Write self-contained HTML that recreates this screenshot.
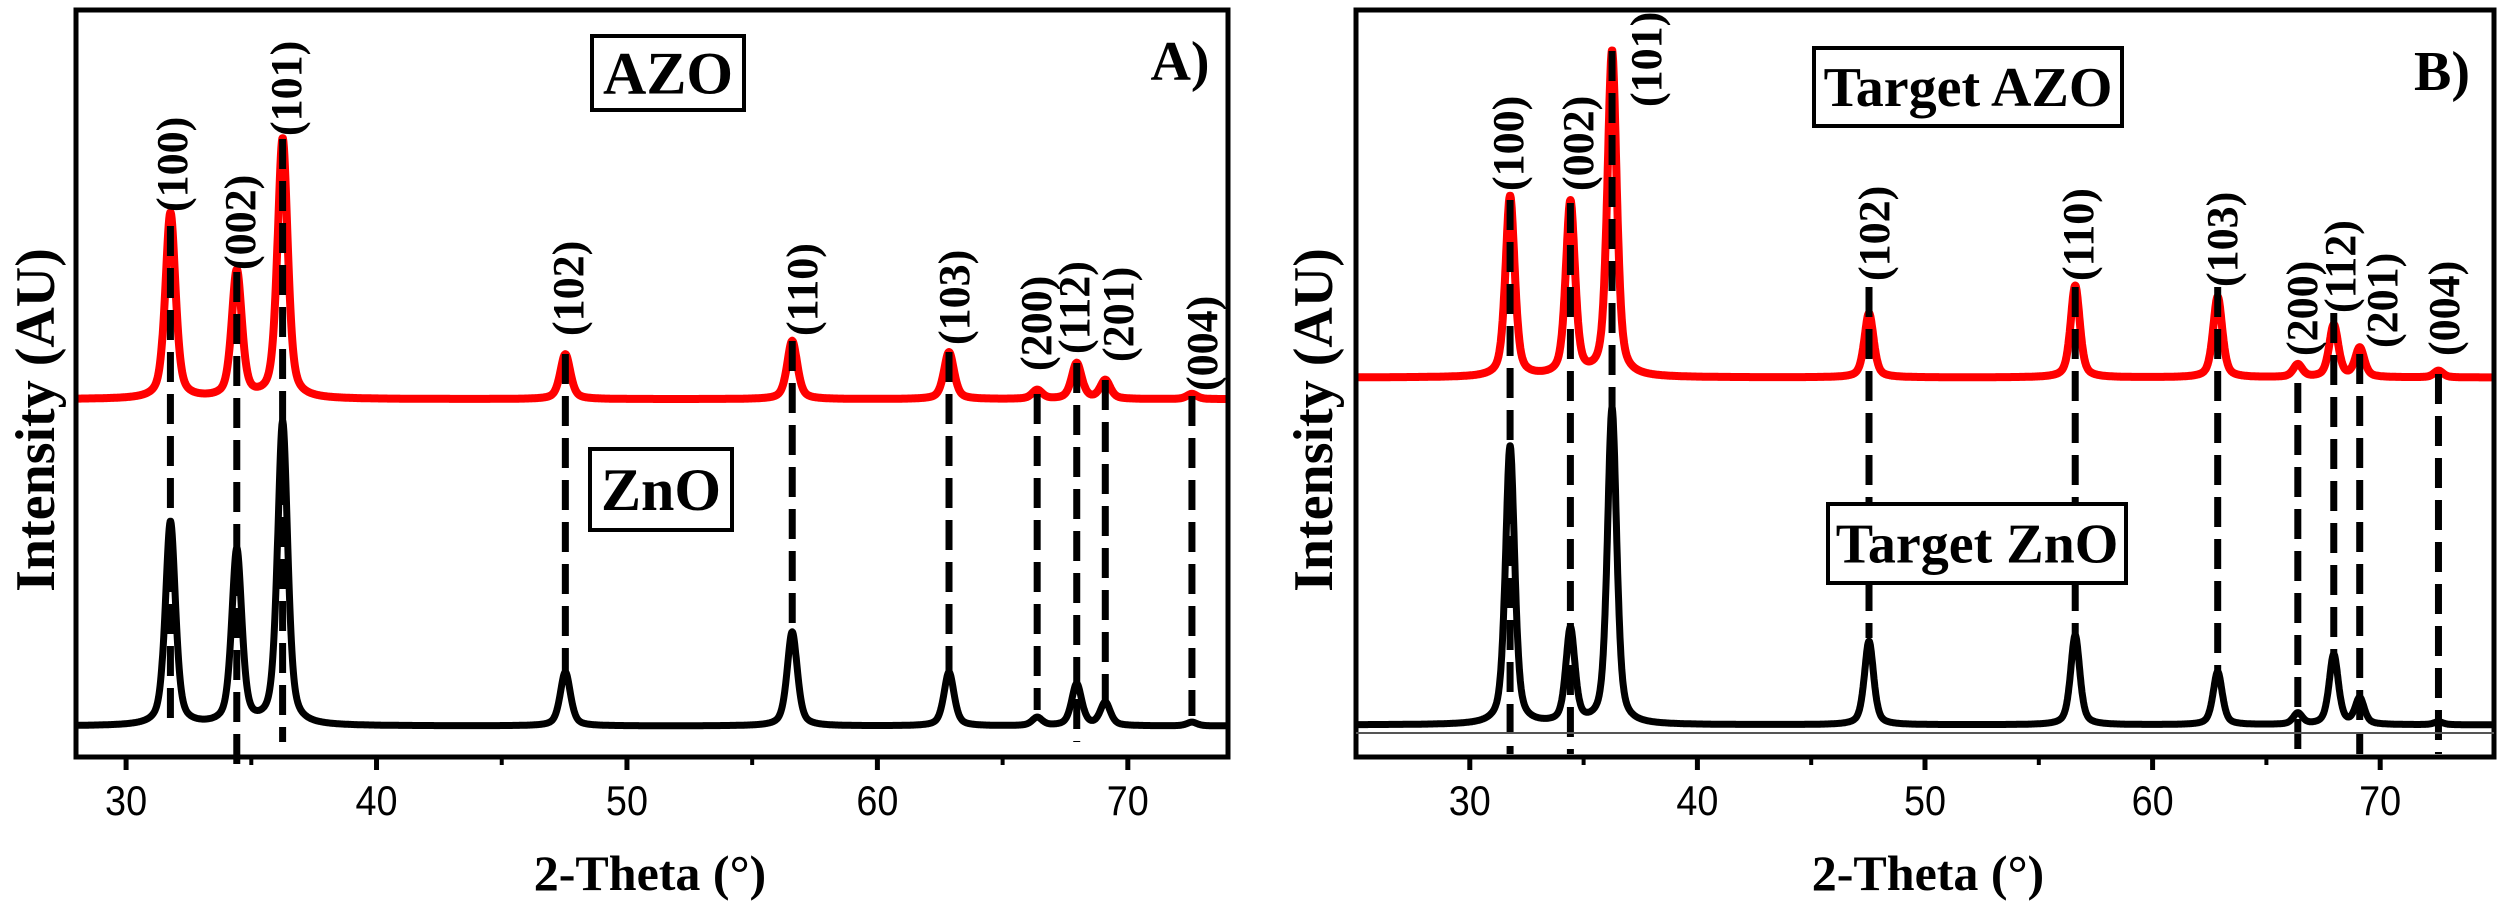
<!DOCTYPE html>
<html><head><meta charset="utf-8"><style>
html,body{margin:0;padding:0;background:#fff;}
svg{display:block;}
text{font-family:"Liberation Serif",serif;font-weight:bold;fill:#000;}
.tick{font-family:"Liberation Sans",sans-serif;font-weight:normal;}
</style></head><body>
<svg id="chart" width="2508" height="909" viewBox="0 0 2508 909" xmlns="http://www.w3.org/2000/svg"></svg>
<script>
const peakLabels = ["(100)","(002)","(101)","(102)","(110)","(103)","(200)","(112)","(201)","(004)"];
const peakPositions = [31.77,34.42,36.25,47.54,56.60,62.86,66.38,67.96,69.10,72.56];
const xTickValues = [30,40,50,60,70];
const minorTickValues = [35,45,55,65];
// Panel A heights (a.u.)
const azoHeightsA = [24.9,17.0,34.8,6.0,7.8,6.3,1.2,4.8,2.5,0.7];
const znoHeightsA = [27.3,23.4,40.6,7.2,12.6,7.2,1.1,5.6,3.1,0.5];
// Panel B heights (a.u.)
const azoHeightsB = [24.2,23.3,43.6,8.6,12.3,10.8,1.7,7.0,3.9,0.9];
const znoHeightsB = [37.3,12.6,42.3,11.2,12.0,7.1,1.5,9.4,3.5,0.4];
const offsetsA = {azo:47.9, zno:4.15};
const offsetsB = {azo:50.8, zno:4.3};

const NS="http://www.w3.org/2000/svg";
const svg=document.getElementById('chart');
function el(tag,attrs,parent){const e=document.createElementNS(NS,tag);for(const k in attrs)e.setAttribute(k,attrs[k]);(parent||svg).appendChild(e);return e;}

function panel(cfg){
  const g=el('g',{});
  
  
  const xs=v=>cfg.left+(v-cfg.xmin)/(cfg.xmax-cfg.xmin)*(cfg.right-cfg.left);
  const ys=v=>757-v*7.47;
  function curve(h,off){
    let d='';
    for(let t=cfg.xmin;t<=cfg.xmax+1e-6;t+=0.02){
      let s=0;
      for(let i=0;i<peakPositions.length;i++){
        const dx=(t-peakPositions[i])/0.24;
        s+=h[i]*(0.5/(1+dx*dx)+0.5*Math.exp(-0.693*dx*dx));
      }
      d+=(d?'L':'M')+xs(t).toFixed(1)+','+ys(off+s).toFixed(1);
    }
    return d;
  }
  const blk=el('path',{d:curve(cfg.zno,cfg.offZ),fill:'none',stroke:'#000','stroke-width':7,'stroke-linejoin':'round'},g);
  
  
  const red=el('path',{d:curve(cfg.azo,cfg.offA),fill:'none',stroke:'#ff0000','stroke-width':8,'stroke-linejoin':'round'},g);
  
  
  for(let i=0;i<peakPositions.length;i++){
    const x=xs(peakPositions[i]);
    const dl=el('line',{x1:x,x2:x,y1:cfg.dashTop[i],y2:cfg.dashBot[i],stroke:'#000','stroke-width':7,'stroke-dasharray':'30 12'},g);
    
    
    const lx=cfg.labelX[i]+15, ly=cfg.labelBot[i];
    const t=el('text',{x:lx,y:ly,'font-size':44,transform:`rotate(-90 ${lx} ${ly})`},g);
    t.textContent=peakLabels[i];
    
    
  }
  const fr=el('rect',{x:cfg.left,y:10,width:cfg.right-cfg.left,height:747,fill:'none',stroke:'#000','stroke-width':5},g);
  
  
  xTickValues.forEach(v=>{
    const tk=el('line',{x1:xs(v),x2:xs(v),y1:757,y2:770,stroke:'#000','stroke-width':5},g);
    
    
    const tl=el('text',{x:xs(v),y:815,'font-size':42,'text-anchor':'middle',class:'tick',transform:`translate(${xs(v)} 0) scale(0.9 1) translate(${-xs(v)} 0)`},g);
    tl.textContent=v;
    
    
  });
  minorTickValues.forEach(v=>{
    const tk=el('line',{x1:xs(v),x2:xs(v),y1:757,y2:765,stroke:'#000','stroke-width':4},g);
    
    
  });
  const xt=el('text',{x:cfg.xTitleX,y:890,'font-size':50,'text-anchor':'middle'},g);
  xt.textContent='2-Theta (°)';
  
  
  const yt=el('text',{x:cfg.yTitleX,y:420,'font-size':56,'text-anchor':'middle',transform:`rotate(-90 ${cfg.yTitleX} 420)`},g);
  yt.textContent='Intensity (AU)';
  
  
  cfg.boxes.forEach(b=>{
    const r=el('rect',{x:b.x,y:b.y,width:b.w,height:b.h,fill:'#fff',stroke:'#000','stroke-width':4},g);
    
    
    const t=el('text',{x:b.x+b.w/2,y:b.y+b.h/2+b.fs*0.34,'font-size':b.fs,'text-anchor':'middle'},g);
    t.textContent=b.text;
    
    
  });
  const pl=el('text',{x:cfg.panelX,y:cfg.panelY,'font-size':56,'text-anchor':'middle'},g);
  pl.textContent=cfg.panelText;
  
  
  if(cfg.hline){
    const h=el('line',{x1:cfg.left,x2:cfg.right,y1:733,y2:733,stroke:'#555','stroke-width':2},g);
    
    
  }
}

panel({name:'panel-a',left:76,right:1228,xmin:28,xmax:74,azo:azoHeightsA,zno:znoHeightsA,offA:offsetsA.azo,offZ:offsetsA.zno,
  dashTop:[226,272,139,354,341,352,394,363,380,396],
  dashBot:[719,771,742,672,632,672,710,742,707,716],
  labelBot:[212,270,136,336,336,345,371,354,362,391],
  labelX:[172,240,286,568,802,954,1036,1074,1118,1202],
  xTitleX:650,yTitleX:54,
  boxes:[{name:'azo',text:'AZO',x:592,y:36,w:152,h:74,fs:60},{name:'zno',text:'ZnO',x:590,y:449,w:142,h:81,fs:60}],
  panelText:'A)',panelX:1180,panelY:80});
panel({name:'panel-b',left:1356,right:2494,xmin:25,xmax:75,azo:azoHeightsB,zno:znoHeightsB,offA:offsetsB.azo,offZ:offsetsB.zno,
  dashTop:[200,203,51,287,287,287,383,313,354,374],
  dashBot:[754,754,410,638,638,675,754,672,754,754],
  labelBot:[191,191,107,281,281,287,356,313,348,356],
  labelX:[1508,1578,1646,1874,2078,2222,2302,2340,2382,2444],
  xTitleX:1928,yTitleX:1332,hline:true,
  boxes:[{name:'target-azo',text:'Target AZO',x:1814,y:48,w:308,h:78,fs:56},{name:'target-zno',text:'Target ZnO',x:1828,y:504,w:298,h:79,fs:56}],
  panelText:'B)',panelX:2442,panelY:90});
</script>
</body></html>
